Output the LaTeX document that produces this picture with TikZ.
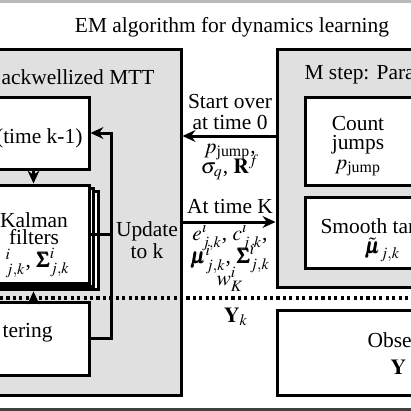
\documentclass[tikz,border=0pt]{standalone}
\usepackage{mathptmx}
\usepackage{amsmath}
\usepackage{bm}
\usepackage{fontspec}
\setmainfont{Liberation Serif}
\usetikzlibrary{arrows.meta, fit, shadows}
\definecolor{ink}{HTML}{000000}
\definecolor{panelgray}{HTML}{E0E0E0}
\definecolor{edgetop}{HTML}{B9B9B9}
\definecolor{edgebot}{HTML}{404040}
\tikzset{
  font=\normalsize,
  >={Stealth[length=6pt, width=5.5pt]},
  %
  panel/.style={draw=ink, line width=1.4pt, fill=panelgray, inner sep=0pt},
  box/.style={draw=ink, line width=1.4pt, fill=white, inner sep=0pt},
  stack/.style={box, double copy shadow={shadow xshift=2.1pt, shadow yshift=-1.6pt}},
  %
  flow/.style={draw=ink, line width=1.4pt, ->},
  link/.style={draw=ink, line width=1.4pt},
  sep/.style={draw=ink, line width=1.6pt, dash pattern=on 1.5pt off 1.5pt},
  %
  lbl/.style={inner sep=1pt, align=center, text=ink},
}

\begin{document}
\begin{tikzpicture}[x=0.0164cm, y=-0.0164cm]
  \useasboundingbox (0,0) rectangle (411,411);
  \fill[edgetop] (0,0) rectangle (411,2.5);
  \fill[edgebot] (0,408) rectangle (411,411);

  \node[lbl] (title) at (232,27) {EM algorithm for dynamics learning};

  % --- E step ------------------------------------------------------------
  \node[panel, fit={(-40,49) (181,395)}] (ebox) {};
  \node[lbl, anchor=west] (etitle) at (-1,77) {ackwellized MTT};

  \node[box, fit={(-22,97) (89,169)}] (pred) {};
  \node[lbl, anchor=east] (predtxt) at (85,138) {(time k-1)};

  \node[stack, fit={(-22,185) (89,283)}] (kal) {};
  \node[lbl] (kaltxt) at (34,229) {Kalman\\[-4pt]filters};
  \node[lbl, anchor=west] (kalmath) at (3,263)
    {${}^{i}_{j,k}$, $\bm{\Sigma}^{i}_{j,k}$};

  \node[box, fit={(-22,302) (89,375)}] (filt) {};
  \node[lbl, anchor=west] (filttxt) at (0,333) {tering};

  \draw[flow] (pred) -- (kal);
  \draw[flow] (filt.north) -- ([yshift=-3.2pt]kal.south);
  \draw[flow] (filt.east) -- ++(21,0) coordinate (turn) |- (pred.east);
  \draw[link] (kal.east) -- (kal.east -| turn);
  \node[lbl] (upd) at (147,240) {Update\\[-1.5pt]to k};

  % --- M step ------------------------------------------------------------
  \node[panel, fit={(277,49) (450,287)}] (mbox) {};
  \node[lbl, anchor=west] (mtitle) at (302,75) {M step: Para};

  \node[box, fit={(305,97) (450,185)}] (cnt) {};
  \node[lbl] (cnttxt) at (358,146) {Count\\[-3pt]jumps\\[-3pt]$p_{\text{jump}}$};

  \node[box, fit={(305,197) (450,268)}] (smo) {};
  \node[lbl, anchor=west] (smotxt) at (318,226) {Smooth tar};
  \node[lbl, anchor=west] (smomath) at (362,250) {$\tilde{\bm{\mu}}_{j,k}$};

  % --- exchange between the steps ----------------------------------------
  \coordinate (so) at (230,136);
  \coordinate (tk) at (230,222);
  \draw[flow] (so -| mbox.west) -- (so -| ebox.east);
  \draw[flow] (tk -| ebox.east) -- (tk -| mbox.west);
  \node[lbl] (start) at (230,112) {Start over\\[-2.5pt]at time 0};
  \node[lbl] (params) at (230,162) {$p_{\text{jump}}$,\\[-2.5pt]$\sigma_q$, $\mathbf{R}^f$};
  \node[lbl] (attk) at (230,207) {At time K};
  \node[lbl] (est) at (230,257)
    {$e^i_{j,k}$, $c^i_{j,k}$,\\[-4pt]$\bm{\mu}^i_{j,k}$, $\bm{\Sigma}^i_{j,k}$\\[-4pt]$w^i_K$};

  % --- observations ------------------------------------------------------
  \draw[sep] (0,298) -- (411,298);
  \node[lbl] (yk) at (236,317) {$\mathbf{Y}_k$};
  \node[box, fit={(277,310) (450,395)}] (obs) {};
  \node[lbl, anchor=west] (obstxt) at (365,340) {Obser};
  \node[lbl, anchor=west] (obsmath) at (388,367) {$\mathbf{Y}$};

\end{tikzpicture}
\end{document}
